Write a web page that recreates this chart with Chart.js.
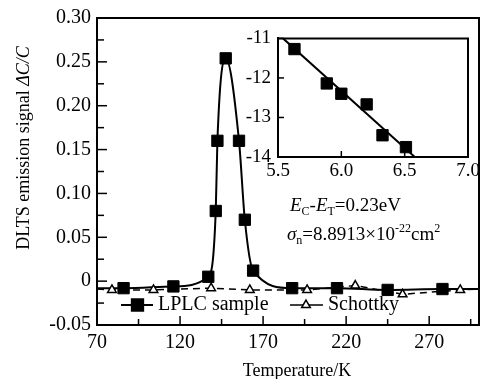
<!DOCTYPE html>
<html>
<head>
<meta charset="utf-8">
<script src="https://cdn.jsdelivr.net/npm/chart.js@4.4.1/dist/chart.umd.min.js"></script>
<style>
  html, body { margin: 0; padding: 0; background: #fff; }
  #wrap { position: relative; width: 488px; height: 379px; overflow: hidden; }
  #main { position: absolute; left: 0; top: 0; }
  #inset { position: absolute; left: 228px; top: 20px; }
</style>
</head>
<body>
<div id="wrap">
  <canvas id="main" width="488" height="379"></canvas>
  <canvas id="inset" width="257" height="170"></canvas>
</div>
<script>
// main plot data (temperature in K, signal dC/C)
const lplcTemp = [70, 86, 116, 137, 141.5, 142.5, 147.5, 155.5, 159, 164, 187.5, 214.5, 245, 278, 300];
const lplcVal  = [-0.008, -0.008, -0.006, 0.005, 0.08, 0.16, 0.254, 0.16, 0.07, 0.012, -0.008, -0.008, -0.01, -0.009, -0.009];
const schottkyTemp = [70, 79, 104, 138.7, 162, 196.5, 225.5, 254, 288.7, 300];
const schottkyVal  = [-0.009, -0.01, -0.01, -0.008, -0.01, -0.01, -0.005, -0.015, -0.01, -0.009];

const xTicks = [70, 120, 170, 220, 270];
const yTicks = [-0.05, 0, 0.05, 0.10, 0.15, 0.20, 0.25, 0.30];
const yTickLabels = ["-0.05", "0", "0.05", "0.10", "0.15", "0.20", "0.25", "0.30"];

// inset: Arrhenius plot
const insetX = [5.63, 5.885, 6.0, 6.2, 6.325, 6.51];
const insetY = [-11.27, -12.14, -12.4, -12.67, -13.45, -13.75];
const fitX = [5.54, 6.58];
const fitY = [-11.0, -14.0];
const insetXTicks = [5.5, 6.0, 6.5, 7.0];
const insetXLabels = ["5.5", "6.0", "6.5", "7.0"];
const insetYTicks = [-14, -13, -12, -11];
const insetYLabels = ["-14", "-13", "-12", "-11"];

const SERIF = "'Liberation Serif', 'Times New Roman', serif";
const edge = (ctx) => (ctx.raw && (ctx.raw.x === 70 || ctx.raw.x === 300));

function pts(xs, ys) {
  return xs.map((x, i) => ({ x: x, y: ys[i] }));
}

// draws a run of text pieces: [text, style, size, dy]
function drawRuns(ctx, runs, x, y) {
  runs.forEach(r => {
    ctx.font = r[1] + " " + r[2] + "px " + SERIF;
    ctx.fillText(r[0], x, y + (r[3] || 0));
    x += ctx.measureText(r[0]).width;
  });
}
function runsWidth(ctx, runs) {
  let w = 0;
  runs.forEach(r => {
    ctx.font = r[1] + " " + r[2] + "px " + SERIF;
    w += ctx.measureText(r[0]).width;
  });
  return w;
}

const mainDeco = {
  id: 'mainDeco',
  afterDatasetsDraw(chart) {
    const ctx = chart.ctx;
    const a = chart.chartArea;
    const xs = chart.scales.x, ys = chart.scales.y;
    ctx.save();
    ctx.strokeStyle = '#000';
    ctx.fillStyle = '#000';
    // top and right frame
    ctx.lineWidth = 2;
    ctx.beginPath();
    ctx.moveTo(a.left, a.top); ctx.lineTo(a.right, a.top); ctx.lineTo(a.right, a.bottom);
    ctx.stroke();
    // inward ticks
    ctx.lineWidth = 1.5;
    for (let t = 70; t < 300; t += 25) {
      const px = xs.getPixelForValue(t);
      const len = ((t - 70) % 50 === 0) ? 9 : 6;
      ctx.beginPath(); ctx.moveTo(px, a.bottom); ctx.lineTo(px, a.bottom - len); ctx.stroke();
    }
    for (let k = 0; k <= 14; k++) {
      const v = -0.05 + k * 0.025;
      const py = ys.getPixelForValue(v);
      const len = (k % 2 === 0) ? 10 : 7;
      ctx.beginPath(); ctx.moveTo(a.left, py); ctx.lineTo(a.left + len, py); ctx.stroke();
    }

    // legend inside the plot
    const ly = 305;
    const ds0 = chart.data.datasets[1], ds1 = chart.data.datasets[0];
    ctx.lineWidth = 2; ctx.setLineDash([]);
    ctx.beginPath(); ctx.moveTo(121, ly); ctx.lineTo(153, ly); ctx.stroke();
    ctx.fillStyle = '#000';
    Chart.helpers.drawPoint(ctx, { pointStyle: 'rect', radius: 8, borderWidth: 1 }, 137.5, ly);
    ctx.fill();
    ctx.lineWidth = 1.5;
    ctx.beginPath(); ctx.moveTo(290, ly); ctx.lineTo(323, ly); ctx.stroke();
    ctx.fillStyle = '#fff';
    Chart.helpers.drawPoint(ctx, { pointStyle: 'triangle', radius: 5, borderWidth: 1.5 }, 306, ly);
    ctx.fillStyle = '#000';
    ctx.textBaseline = 'middle';
    ctx.textAlign = 'left';
    ctx.font = "20px " + SERIF;
    ctx.fillText(ds0.label, 158, ly);
    ctx.fillText(ds1.label, 328, ly);

    // annotations for the inset fit
    ctx.textBaseline = 'alphabetic';
    drawRuns(ctx, [["E", "italic", 19], ["C", "", 12, 4], ["-", "", 19], ["E", "italic", 19], ["T", "", 12, 4], ["=0.23eV", "", 19]], 290, 211);
    drawRuns(ctx, [["\u03C3", "italic", 19], ["n", "", 12, 4], ["=8.8913\u00D710", "", 19], ["-22", "", 12, -8], ["cm", "", 19], ["2", "", 12, -8]], 287, 240);

    // axis titles
    ctx.textBaseline = 'middle';
    ctx.font = "18px " + SERIF;
    ctx.textAlign = 'center';
    ctx.fillText("Temperature/K", 297, 371);
    const yRuns = [["DLTS emission signal ", "", 18], ["\u0394C/C", "italic", 18]];
    ctx.translate(24, 148);
    ctx.rotate(-Math.PI / 2);
    ctx.textAlign = 'left';
    drawRuns(ctx, yRuns, -runsWidth(ctx, yRuns) / 2, 0);
    ctx.restore();
  }
};

new Chart(document.getElementById('main'), {
  type: 'line',
  data: {
    datasets: [
      {
        label: 'Schottky',
        data: pts(schottkyTemp, schottkyVal),
        borderColor: '#000',
        borderWidth: 1.5,
        borderDash: [7, 5],
        tension: 0,
        pointStyle: 'triangle',
        pointRadius: (ctx) => edge(ctx) ? 0 : 5,
        pointBackgroundColor: '#fff',
        pointBorderColor: '#000',
        pointBorderWidth: 1.5
      },
      {
        label: 'LPLC sample',
        data: pts(lplcTemp, lplcVal),
        borderColor: '#000',
        borderWidth: 2,
        cubicInterpolationMode: 'monotone',
        pointStyle: 'rect',
        pointRadius: (ctx) => edge(ctx) ? 0 : 8,
        pointBackgroundColor: '#000',
        pointBorderColor: '#000',
        pointBorderWidth: 1
      }
    ]
  },
  options: {
    responsive: false,
    animation: false,
    layout: { padding: { top: 12, right: 9, left: 0, bottom: 0 } },
    plugins: { legend: { display: false }, tooltip: { enabled: false } },
    scales: {
      x: {
        type: 'linear', min: 70, max: 300,
        afterFit: (s) => { s.height = 54; },
        afterBuildTicks: (s) => { s.ticks = xTicks.map(v => ({ value: v })); },
        ticks: { color: '#000', font: { family: SERIF, size: 20 }, padding: 6, maxRotation: 0 },
        grid: { display: false, drawTicks: false },
        border: { color: '#000', width: 2 }
      },
      y: {
        type: 'linear', min: -0.05, max: 0.30,
        afterFit: (s) => { s.width = 97; },
        afterBuildTicks: (s) => { s.ticks = yTicks.map(v => ({ value: v })); },
        ticks: { color: '#000', font: { family: SERIF, size: 20 }, padding: 6,
                 callback: (v, i) => yTickLabels[i] },
        grid: { display: false, drawTicks: false },
        border: { color: '#000', width: 2 }
      }
    }
  },
  plugins: [mainDeco]
});

const insetDeco = {
  id: 'insetDeco',
  afterDatasetsDraw(chart) {
    const ctx = chart.ctx;
    const a = chart.chartArea;
    ctx.save();
    ctx.strokeStyle = '#000';
    ctx.lineWidth = 2;
    ctx.beginPath();
    ctx.moveTo(a.left, a.top); ctx.lineTo(a.right, a.top); ctx.lineTo(a.right, a.bottom);
    ctx.stroke();
    ctx.lineWidth = 1.5;
    insetYTicks.forEach(v => {
      const py = chart.scales.y.getPixelForValue(v);
      ctx.beginPath(); ctx.moveTo(a.left, py); ctx.lineTo(a.left + 6, py); ctx.stroke();
    });
    insetXTicks.forEach(v => {
      const px = chart.scales.x.getPixelForValue(v);
      ctx.beginPath(); ctx.moveTo(px, a.bottom); ctx.lineTo(px, a.bottom - 6); ctx.stroke();
    });
    ctx.restore();
  }
};

new Chart(document.getElementById('inset'), {
  type: 'scatter',
  data: {
    datasets: [
      {
        data: pts(insetX, insetY),
        pointStyle: 'rect',
        pointRadius: 8,
        pointBackgroundColor: '#000',
        pointBorderColor: '#000',
        showLine: false
      },
      {
        data: pts(fitX, fitY),
        showLine: true,
        borderColor: '#000',
        borderWidth: 2,
        pointRadius: 0
      }
    ]
  },
  options: {
    responsive: false,
    animation: false,
    layout: { padding: { top: 10, right: 17, left: 0, bottom: 0 } },
    plugins: { legend: { display: false }, tooltip: { enabled: false } },
    scales: {
      x: {
        type: 'linear', min: 5.5, max: 7.0,
        afterFit: (s) => { s.height = 33; },
        afterBuildTicks: (s) => { s.ticks = insetXTicks.map(v => ({ value: v })); },
        ticks: { color: '#000', font: { family: SERIF, size: 19 }, padding: 3, maxRotation: 0,
                 callback: (v, i) => insetXLabels[i] },
        grid: { display: false, drawTicks: false },
        border: { color: '#000', width: 2 }
      },
      y: {
        type: 'linear', min: -14, max: -11,
        afterFit: (s) => { s.width = 50; },
        afterBuildTicks: (s) => { s.ticks = insetYTicks.map(v => ({ value: v })); },
        ticks: { color: '#000', font: { family: SERIF, size: 19 }, padding: 7,
                 callback: (v, i) => insetYLabels[i] },
        grid: { display: false, drawTicks: false },
        border: { color: '#000', width: 2 }
      }
    }
  },
  plugins: [insetDeco]
});
</script>
</body>
</html>
